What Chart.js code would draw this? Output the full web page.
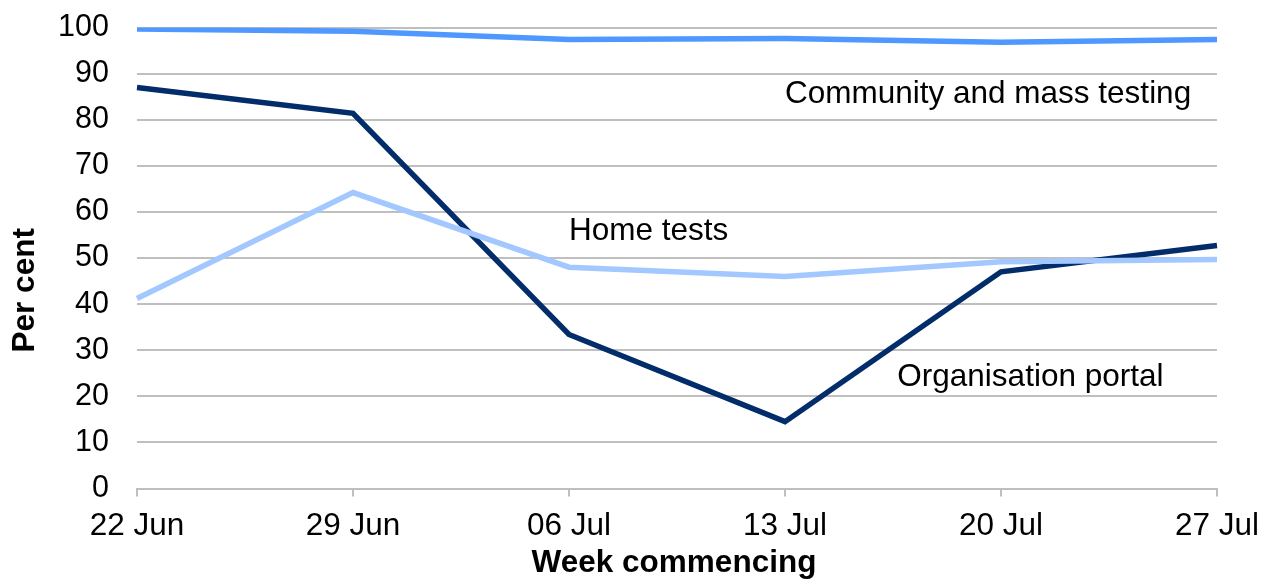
<!DOCTYPE html>
<html>
<head>
<meta charset="utf-8">
<script src="https://cdn.jsdelivr.net/npm/chart.js@4/dist/chart.umd.min.js"></script>
<style>
  html, body { margin: 0; padding: 0; background: #fff; }
  #wrap { width: 1262px; height: 584px; position: relative; }
</style>
</head>
<body>
<div id="wrap"><canvas id="c"></canvas></div>
<script>
// ---- Data ----
const weeks = ["22 Jun", "29 Jun", "06 Jul", "13 Jul", "20 Jul", "27 Jul"];
const communityMassTesting = [99.7, 99.2, 97.4, 97.6, 96.8, 97.4];
const homeTests = [41.2, 64.2, 48.0, 46.0, 49.2, 49.7];
const organisationPortal = [87.0, 81.4, 33.4, 14.5, 47.0, 52.7];
const yTicks = [0, 10, 20, 30, 40, 50, 60, 70, 80, 90, 100];
// series labels: [text, category index position, value at text baseline]
const seriesLabels = [
  ["Community and mass testing", 3.0, 83.7],
  ["Home tests", 2.0, 53.8],
  ["Organisation portal", 3.52, 22.3]
];
const yTitle = "Per cent";
const xTitle = "Week commencing";

const FONT = "'Liberation Sans', Arial, Helvetica, sans-serif";
const GRID = "#BFBFBF";
const FS = 31.5;

const labelPlugin = {
  id: 'labels',
  afterDraw(chart) {
    const ctx = chart.ctx;
    const xs = chart.scales.x, ys = chart.scales.y;
    ctx.save();
    ctx.fillStyle = '#000';
    ctx.font = FS + "px " + FONT;
    ctx.textAlign = 'left';
    ctx.textBaseline = 'alphabetic';
    seriesLabels.forEach(([t, xi, yv]) => {
      ctx.fillText(t, xs.getPixelForValue(xi), ys.getPixelForValue(yv));
    });
    // axis titles
    ctx.font = "bold " + FS + "px " + FONT;
    ctx.textAlign = 'center';
    ctx.fillText(xTitle, (chart.chartArea.left + chart.chartArea.right) / 2 - 3, 572);
    ctx.translate(34, ys.getPixelForValue(43));
    ctx.rotate(-Math.PI / 2);
    ctx.fillText(yTitle, 0, 0);
    ctx.restore();
  }
};

new Chart(document.getElementById('c'), {
  type: 'line',
  data: {
    labels: weeks,
    datasets: [
      { label: 'Community and mass testing', data: communityMassTesting, borderColor: '#4F98FF', borderWidth: 5.5 },
      { label: 'Home tests', data: homeTests, borderColor: '#A3C8FF', borderWidth: 5.5 },
      { label: 'Organisation portal', data: organisationPortal, borderColor: '#022D6A', borderWidth: 5.5 }
    ]
  },
  options: {
    responsive: true,
    maintainAspectRatio: false,
    animation: false,
    elements: { point: { radius: 0 }, line: { tension: 0, borderJoinStyle: 'miter', borderCapStyle: 'butt' } },
    layout: { padding: { top: 27.5, right: 45, left: 0, bottom: 0 } },
    plugins: { legend: { display: false }, tooltip: { enabled: false } },
    scales: {
      x: {
        type: 'category',
        offset: false,
        grid: { display: true, drawOnChartArea: false, drawTicks: true, tickLength: 8, color: GRID, lineWidth: 2 },
        border: { display: true, color: GRID, width: 2 },
        ticks: { color: '#000', font: { family: FONT, size: FS }, padding: 11, maxRotation: 0, autoSkip: false },
        afterFit(s) { s.height = 95.5; s.paddingLeft = 0; s.paddingRight = 0; }
      },
      y: {
        min: 0, max: 100,
        afterBuildTicks(s) { s.ticks = yTicks.map(v => ({ value: v })); },
        grid: { color: GRID, lineWidth: 2, drawTicks: false },
        border: { display: false },
        ticks: { color: '#000', font: { family: FONT, size: 30.5 }, padding: 28 },
        afterFit(s) { s.width = 137; s.paddingTop = 0; s.paddingBottom = 0; }
      }
    }
  },
  plugins: [labelPlugin]
});
</script>
</body>
</html>
